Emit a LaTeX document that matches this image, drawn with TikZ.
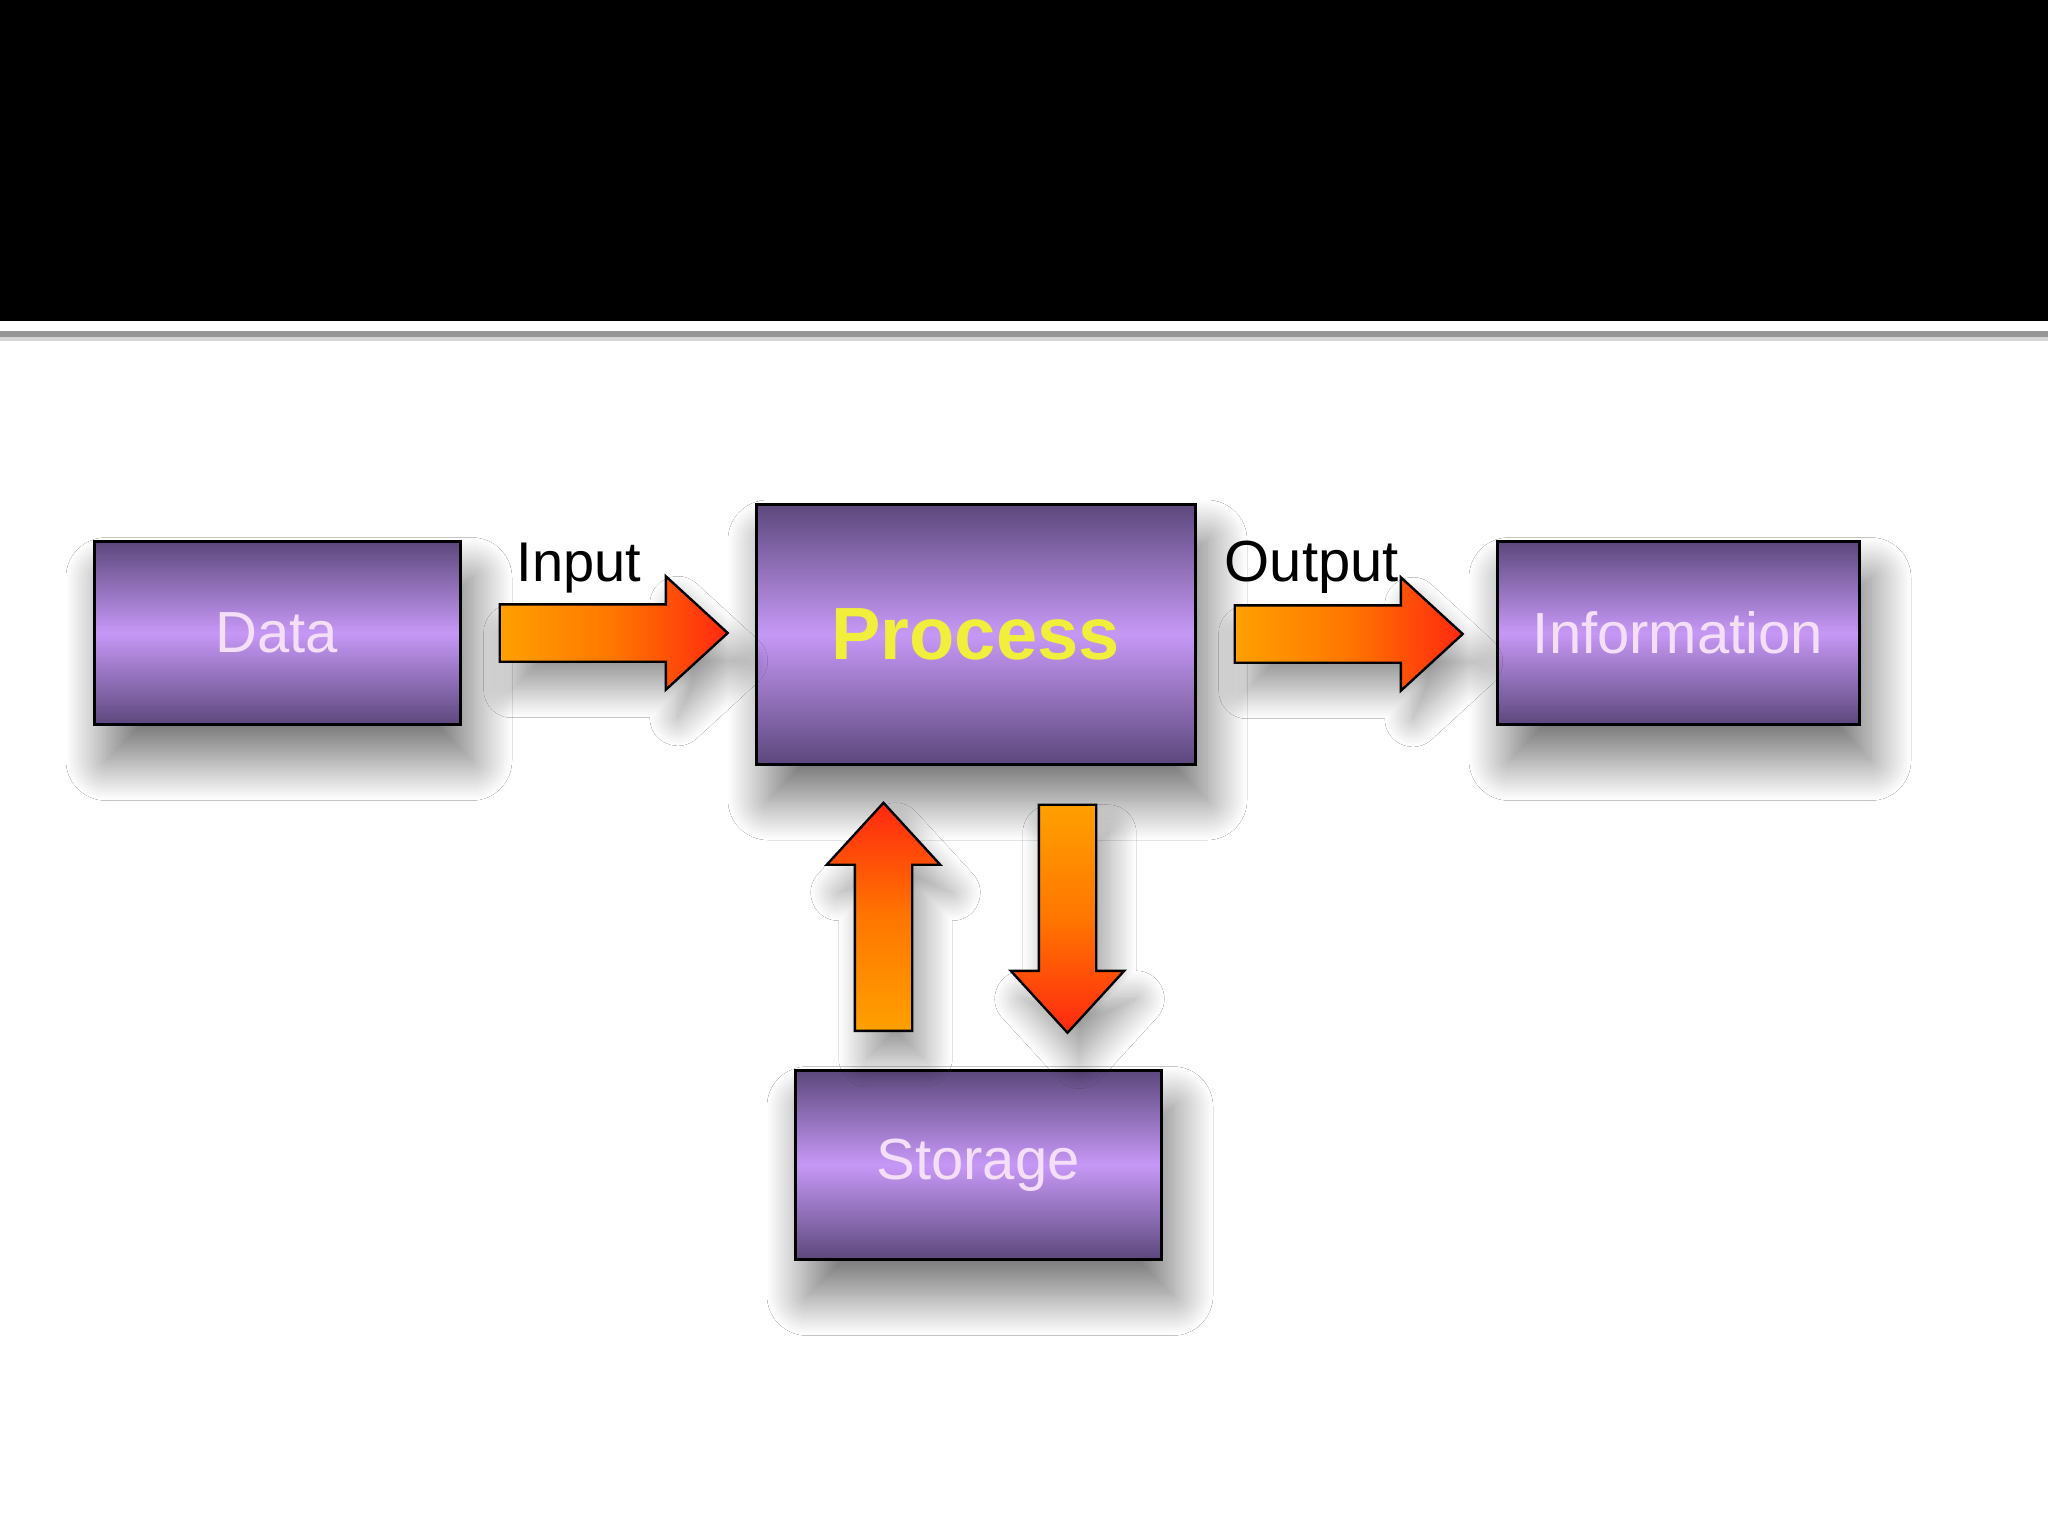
\documentclass[tikz,border=0pt]{standalone}
\usepackage{fontspec}
\setmainfont{Liberation Sans}
\usetikzlibrary{shapes.arrows,shadows.blur,calc}

\definecolor{boxdark}{RGB}{92,72,124}
\definecolor{boxlight}{RGB}{198,152,246}
\definecolor{boxtext}{RGB}{244,222,248}
\definecolor{proctext}{RGB}{242,238,60}
\definecolor{arrowtail}{RGB}{255,160,0}
\definecolor{arrowmid}{RGB}{255,118,0}
\definecolor{arrowhead}{RGB}{255,40,16}
\definecolor{rulegray}{RGB}{150,150,150}

\tikzset{
	stagebox/.style={draw=black, line width=0.75pt, top color=boxdark, bottom color=boxdark, middle color=boxlight,
		minimum width=91.5pt, minimum height=45.75pt, inner sep=0pt, text=boxtext,
		font=\fontsize{14.5}{16}\selectfont,
		blur shadow={shadow xshift=3pt, shadow yshift=-9pt, shadow blur radius=10pt, shadow opacity=55, shadow blur steps=40}},
	flowarrow/.style={single arrow, draw=black, line width=0.6pt, minimum height=57pt,
		single arrow head extend=7pt, single arrow tip angle=85, inner sep=6.875pt, anchor=tail,
		blur shadow={shadow xshift=3pt, shadow yshift=-7pt, shadow blur radius=7pt, shadow opacity=40, shadow blur steps=30}},
	flowlabel/.style={anchor=base west, inner sep=0pt, font=\fontsize{14}{16}\selectfont},
}

\begin{document}
\begin{tikzpicture}[x=0.25pt,y=0.25pt,yscale=-1,xscale=1]
	\useasboundingbox (0,0) rectangle (2048,1536);
	\fill[white] (0,0) rectangle (2048,1536);
	
	%Shape: Title band
	\fill[black] (0,0) rectangle (2048,321);
	\fill[rulegray] (0,331) rectangle (2048,337);
	\fill[rulegray!40] (0,337) rectangle (2048,341);
	
	%Shape: Rectangle
	\node[stagebox] (data) at (277,633) {Data};
	%Shape: Rectangle
	\node[stagebox, minimum width=109.75pt, minimum height=65pt, text=proctext,
		font=\bfseries\fontsize{18.5}{20}\selectfont] (process) at (975.5,634) {Process};
	%Shape: Rectangle
	\node[stagebox, minimum width=90.5pt] (information) at (1678,633) {Information};
	%Shape: Rectangle
	\node[stagebox, minimum height=47.25pt] (storage) at (978,1165) {Storage};
	
	%Shape: Right Arrow
	\node[flowarrow, left color=arrowtail, right color=arrowhead, middle color=arrowmid]
		(inarrow) at ($(data.east)+(37,0)$) {};
	%Shape: Right Arrow
	\node[flowarrow, left color=arrowtail, right color=arrowhead, middle color=arrowmid]
		(outarrow) at ($(process.east)+(37,0)$) {};
	%Shape: Up Arrow
	\node[flowarrow, shape border rotate=90, top color=arrowhead, bottom color=arrowtail, middle color=arrowmid]
		(readarrow) at ($(process.south |- storage.north)+(-92,-37)$) {};
	%Shape: Down Arrow
	\node[flowarrow, shape border rotate=270, top color=arrowtail, bottom color=arrowhead, middle color=arrowmid]
		(writearrow) at ($(process.south)+(92,38)$) {};
	
	% Text Node
	\node[flowlabel] (inlabel) at (516,581) {Input};
	% Text Node
	\node[flowlabel, font=\fontsize{14.5}{16}\selectfont] (outlabel) at (1224,581) {Output};
\end{tikzpicture}
\end{document}
